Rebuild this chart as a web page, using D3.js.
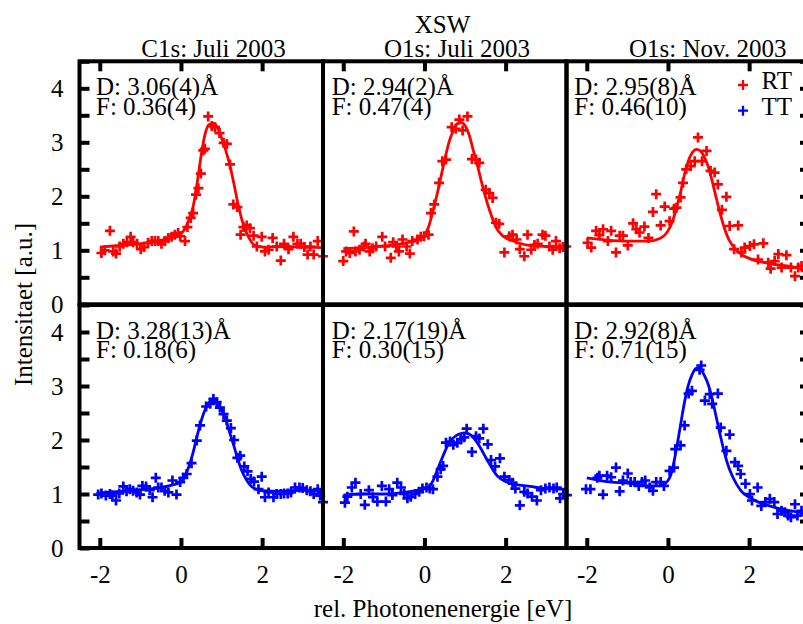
<!DOCTYPE html>
<html>
<head>
<meta charset="utf-8">
<script src="https://cdn.jsdelivr.net/npm/d3@7"></script>
<style>
  body { margin: 0; background: #fff; }
  svg text { font-family: "Liberation Serif", Tinos, "Times New Roman", Times, "DejaVu Serif", serif; font-size: 25px; fill: #000; }
</style>
</head>
<body>
<div id="chart"></div>
<script>
// Data: [rel. photon energy (eV), intensity (a.u.)]
var rtC1sJuli = [[-1.96,0.95],[-1.88,1.00],[-1.75,1.36],[-1.67,0.98],[-1.60,0.94],[-1.51,1.07],[-1.42,1.12],[-1.33,1.15],[-1.24,1.25],[-1.18,1.15],[-1.08,1.12],[-0.99,1.02],[-0.91,1.06],[-0.81,1.14],[-0.72,1.17],[-0.64,1.17],[-0.56,1.17],[-0.48,1.12],[-0.40,1.17],[-0.31,1.23],[-0.23,1.25],[-0.15,1.29],[-0.07,1.32],[-0.02,1.26],[0.10,1.17],[0.16,1.43],[0.24,1.60],[0.30,1.69],[0.37,2.03],[0.43,2.15],[0.49,2.42],[0.55,2.85],[0.59,2.88],[0.67,3.48],[0.76,3.30],[0.84,3.28],[0.95,3.17],[1.05,2.99],[1.13,2.97],[1.21,2.59],[1.29,1.85],[1.39,1.80],[1.47,1.29],[1.54,1.43],[1.62,1.46],[1.70,1.41],[1.79,1.27],[1.87,1.07],[1.99,1.25],[2.07,0.98],[2.16,1.01],[2.26,1.23],[2.36,1.07],[2.46,0.81],[2.54,1.12],[2.65,1.02],[2.77,1.25],[2.87,1.12],[2.95,1.12],[3.04,1.06],[3.12,0.92],[3.19,1.07],[3.27,0.92],[3.37,1.17],[3.50,0.89]];
var fitRtC1sJuli = [[-2.0,1.06],[-1.5,1.09],[-1.0,1.12],[-0.5,1.18],[-0.2,1.24],[0.0,1.31],[0.1,1.40],[0.2,1.57],[0.3,1.81],[0.4,2.25],[0.5,2.77],[0.6,3.17],[0.7,3.33],[0.8,3.35],[0.9,3.27],[1.0,3.08],[1.1,2.86],[1.2,2.59],[1.3,2.25],[1.4,1.88],[1.5,1.57],[1.6,1.35],[1.7,1.20],[1.8,1.10],[2.0,1.06],[2.5,1.07],[3.0,1.06],[3.5,1.05]];

var rtO1sJuli = [[-2.00,0.80],[-1.93,0.98],[-1.84,0.95],[-1.74,1.35],[-1.70,0.98],[-1.60,1.01],[-1.49,1.07],[-1.45,1.12],[-1.35,0.98],[-1.28,1.04],[-1.19,1.07],[-1.04,1.25],[-0.97,1.07],[-0.83,0.86],[-0.77,1.15],[-0.69,1.07],[-0.63,0.98],[-0.54,1.20],[-0.44,1.07],[-0.36,0.94],[-0.30,1.17],[-0.17,1.20],[-0.09,1.25],[-0.01,1.26],[0.10,1.29],[0.16,1.69],[0.24,1.85],[0.36,2.25],[0.44,2.65],[0.53,2.68],[0.67,3.28],[0.77,3.25],[0.86,3.42],[0.94,3.22],[1.06,3.48],[1.17,2.69],[1.27,2.68],[1.35,2.62],[1.51,2.12],[1.60,2.06],[1.68,1.97],[1.76,1.51],[1.84,1.49],[1.97,0.96],[2.09,1.26],[2.17,1.29],[2.27,1.20],[2.35,1.02],[2.46,0.89],[2.54,1.29],[2.63,1.01],[2.71,1.10],[2.79,1.12],[2.91,1.29],[2.98,1.27],[3.08,1.07],[3.16,1.01],[3.24,1.17],[3.33,1.04],[3.41,1.06],[3.49,1.07]];
var fitRtO1sJuli = [[-2.0,1.03],[-1.5,1.05],[-1.0,1.08],[-0.5,1.13],[-0.1,1.22],[0.0,1.28],[0.1,1.43],[0.2,1.70],[0.3,2.00],[0.4,2.34],[0.5,2.68],[0.6,2.99],[0.7,3.20],[0.8,3.34],[0.9,3.37],[1.0,3.31],[1.1,3.14],[1.2,2.86],[1.3,2.59],[1.4,2.28],[1.5,2.00],[1.6,1.75],[1.7,1.54],[1.8,1.38],[1.9,1.29],[2.0,1.23],[2.2,1.17],[2.5,1.10],[3.0,1.07],[3.5,1.06]];

var rtO1sNov = [[-1.98,1.14],[-1.89,1.05],[-1.77,1.36],[-1.69,1.28],[-1.60,1.39],[-1.48,1.17],[-1.40,1.36],[-1.28,0.96],[-1.19,1.27],[-1.11,1.27],[-0.99,1.09],[-0.86,1.50],[-0.78,1.39],[-0.70,1.33],[-0.58,1.44],[-0.48,1.23],[-0.37,1.71],[-0.29,2.04],[-0.18,1.46],[-0.08,1.81],[0.04,1.54],[0.15,1.77],[0.21,1.79],[0.31,1.98],[0.37,2.25],[0.45,2.50],[0.56,2.56],[0.66,2.65],[0.74,3.09],[0.84,2.65],[0.95,2.84],[1.05,2.47],[1.15,2.44],[1.23,2.22],[1.33,1.75],[1.44,1.99],[1.52,1.45],[1.63,1.02],[1.73,1.46],[1.81,0.96],[1.89,1.05],[2.02,1.08],[2.12,1.11],[2.22,0.83],[2.35,1.13],[2.47,0.77],[2.53,0.66],[2.63,0.80],[2.72,0.93],[2.80,0.68],[2.92,0.91],[3.03,0.68],[3.13,0.52],[3.21,0.68],[3.29,0.71],[3.40,0.62],[3.48,0.66]];
var fitRtO1sNov = [[-2.0,1.23],[-1.5,1.19],[-1.0,1.17],[-0.5,1.17],[-0.2,1.22],[0.0,1.36],[0.1,1.51],[0.2,1.76],[0.3,2.04],[0.4,2.38],[0.5,2.65],[0.6,2.81],[0.7,2.87],[0.8,2.84],[0.9,2.72],[1.0,2.53],[1.1,2.25],[1.2,1.94],[1.3,1.64],[1.4,1.39],[1.5,1.20],[1.6,1.08],[1.8,0.93],[2.0,0.85],[2.5,0.76],[3.0,0.70],[3.5,0.64]];

var ttC1sJuli = [[-2.04,0.99],[-1.96,1.01],[-1.85,0.97],[-1.75,1.00],[-1.69,0.97],[-1.60,0.88],[-1.52,1.01],[-1.42,1.14],[-1.34,1.05],[-1.26,1.09],[-1.18,1.06],[-1.09,1.03],[-1.01,0.99],[-0.95,1.15],[-0.86,1.14],[-0.77,1.07],[-0.70,0.94],[-0.62,1.30],[-0.56,1.12],[-0.48,1.12],[-0.40,1.06],[-0.31,1.03],[-0.21,1.25],[-0.11,0.99],[-0.02,1.22],[0.06,1.30],[0.14,1.37],[0.26,1.57],[0.39,1.99],[0.47,2.27],[0.62,2.62],[0.72,2.67],[0.80,2.76],[0.88,2.70],[0.96,2.60],[1.05,2.48],[1.13,2.36],[1.23,2.22],[1.31,2.00],[1.39,1.67],[1.46,1.71],[1.56,1.51],[1.64,1.42],[1.72,1.28],[1.80,1.23],[1.91,1.09],[1.99,1.32],[2.07,0.94],[2.16,1.03],[2.28,0.94],[2.36,1.00],[2.46,1.00],[2.54,1.01],[2.63,1.01],[2.71,1.03],[2.81,1.12],[2.92,1.12],[3.00,1.11],[3.10,1.07],[3.19,1.05],[3.27,1.00],[3.37,1.09],[3.43,0.97],[3.50,0.85]];
var fitTtC1sJuli = [[-2.0,1.02],[-1.5,1.05],[-1.0,1.08],[-0.5,1.12],[-0.2,1.17],[0.0,1.22],[0.1,1.34],[0.2,1.52],[0.3,1.77],[0.4,2.08],[0.5,2.36],[0.6,2.57],[0.7,2.70],[0.8,2.73],[0.9,2.68],[1.0,2.56],[1.1,2.39],[1.2,2.14],[1.3,1.90],[1.4,1.65],[1.5,1.43],[1.6,1.28],[1.7,1.17],[1.8,1.11],[2.0,1.06],[2.5,1.05],[3.0,1.07],[3.5,1.06]];

var ttO1sJuli = [[-1.96,0.84],[-1.90,0.95],[-1.79,1.12],[-1.70,1.21],[-1.57,1.00],[-1.47,0.80],[-1.37,1.07],[-1.27,0.94],[-1.16,0.86],[-1.05,1.15],[-0.95,0.86],[-0.87,1.09],[-0.79,0.98],[-0.67,1.21],[-0.58,1.12],[-0.50,1.00],[-0.42,0.92],[-0.34,0.95],[-0.23,1.00],[-0.13,1.04],[-0.05,1.10],[0.05,1.12],[0.13,1.10],[0.21,1.09],[0.32,1.32],[0.40,1.46],[0.46,1.52],[0.53,1.95],[0.63,1.97],[0.71,1.91],[0.81,1.95],[0.90,2.01],[0.98,2.05],[1.04,2.21],[1.17,1.78],[1.27,2.07],[1.35,2.03],[1.45,2.21],[1.56,1.92],[1.64,1.63],[1.74,1.51],[1.86,1.66],[1.97,1.32],[2.09,1.26],[2.17,1.21],[2.24,1.10],[2.35,0.79],[2.46,1.04],[2.54,1.01],[2.65,0.95],[2.77,0.88],[2.87,1.07],[2.98,1.10],[3.08,1.12],[3.18,1.10],[3.26,1.12],[3.34,0.92],[3.42,1.00],[3.51,0.98]];
var fitTtO1sJuli = [[-2.0,0.98],[-1.5,1.00],[-1.0,1.00],[-0.5,1.03],[0.0,1.10],[0.1,1.13],[0.2,1.23],[0.3,1.41],[0.4,1.60],[0.5,1.78],[0.6,1.94],[0.7,2.03],[0.8,2.09],[0.9,2.12],[1.0,2.13],[1.1,2.11],[1.2,2.05],[1.3,1.95],[1.4,1.83],[1.5,1.69],[1.6,1.56],[1.7,1.43],[1.8,1.33],[2.0,1.23],[2.3,1.17],[2.6,1.14],[3.0,1.10],[3.5,1.09]];

var ttO1sNov = [[-2.02,1.09],[-1.91,1.09],[-1.74,1.30],[-1.69,1.34],[-1.60,0.99],[-1.50,1.34],[-1.40,1.31],[-1.28,1.49],[-1.19,1.05],[-1.11,1.25],[-0.99,1.38],[-0.92,1.22],[-0.82,1.22],[-0.72,1.15],[-0.64,1.22],[-0.56,1.25],[-0.45,1.12],[-0.37,1.06],[-0.29,1.22],[-0.18,1.22],[-0.10,1.15],[0.04,1.43],[0.15,1.49],[0.18,1.83],[0.31,1.90],[0.41,2.27],[0.51,2.86],[0.59,2.91],[0.78,3.30],[0.82,3.38],[0.91,2.73],[1.03,2.85],[1.09,2.67],[1.23,2.86],[1.30,2.23],[1.44,1.80],[1.52,2.10],[1.65,1.59],[1.73,1.52],[1.79,1.37],[1.91,1.19],[2.02,1.00],[2.07,0.88],[2.21,1.12],[2.30,0.78],[2.40,0.85],[2.51,0.91],[2.62,0.85],[2.70,0.63],[2.80,0.69],[2.88,0.66],[2.96,0.60],[3.03,0.57],[3.13,0.81],[3.19,0.60],[3.29,0.69],[3.40,0.62]];
var fitTtO1sNov = [[-2.0,1.30],[-1.5,1.23],[-1.0,1.20],[-0.5,1.15],[-0.2,1.15],[0.0,1.25],[0.1,1.43],[0.2,1.80],[0.3,2.23],[0.4,2.67],[0.5,3.01],[0.6,3.22],[0.7,3.33],[0.8,3.31],[0.9,3.19],[1.0,3.01],[1.1,2.73],[1.2,2.39],[1.3,2.05],[1.4,1.74],[1.5,1.49],[1.6,1.31],[1.8,1.06],[2.0,0.94],[2.5,0.78],[3.0,0.69],[3.5,0.63]];

var columnTitles = ["C1s: Juli 2003", "O1s: Juli 2003", "O1s: Nov. 2003"];
var dLabels = ["D: 3.06(4)Å", "D: 2.94(2)Å", "D: 2.95(8)Å", "D: 3.28(13)Å", "D: 2.17(19)Å", "D: 2.92(8)Å"];
var fLabels = ["F: 0.36(4)", "F: 0.47(4)", "F: 0.46(10)", "F: 0.18(6)", "F: 0.30(15)", "F: 0.71(15)"];
var seriesNames = ["RT", "TT"];
var xTicks = [-2, 0, 2];
var yTicks = [0, 0.5, 1, 1.5, 2, 2.5, 3, 3.5, 4, 4.5];

// layout
var svgWidth = 803;
var svgHeight = 624;
var panelLeft = 79.5;
var panelW = 243.5;
var rowTop = [61.3, 305];
var panelH = 243;
var colors = { RT: "#ff0000", TT: "#0000ff" };
var titleX = [213.5, 457, 707.7];
var labelX = [96, 331.7, 574.3];
var fontStack = "'Liberation Serif', Tinos, 'Times New Roman', Times, 'DejaVu Serif', serif";

var panels = [
  { row: 0, col: 0, series: "RT", points: rtC1sJuli, fit: fitRtC1sJuli },
  { row: 0, col: 1, series: "RT", points: rtO1sJuli, fit: fitRtO1sJuli },
  { row: 0, col: 2, series: "RT", points: rtO1sNov, fit: fitRtO1sNov },
  { row: 1, col: 0, series: "TT", points: ttC1sJuli, fit: fitTtC1sJuli },
  { row: 1, col: 1, series: "TT", points: ttO1sJuli, fit: fitTtO1sJuli },
  { row: 1, col: 2, series: "TT", points: ttO1sNov, fit: fitTtO1sNov }
];

var svg = d3.select("#chart")
  .append("svg")
  .attr("width", svgWidth)
  .attr("height", svgHeight)
  .attr("font-family", fontStack)
  .attr("font-size", 25);

var plusPath = "M-5,0H5M0,-5V5";

panels.forEach(function(p, i) {
  var x0 = panelLeft + p.col * panelW;
  var y0 = rowTop[p.row];
  var xScale = d3.scaleLinear().domain([-2.5, 3.5]).range([x0, x0 + panelW]);
  var yScale = d3.scaleLinear().domain([0, 4.5]).range([y0 + panelH, y0]);
  var color = colors[p.series];
  var g = svg.append("g");

  // fitted curve
  var line = d3.line()
    .x(d => xScale(d[0]))
    .y(d => yScale(d[1]))
    .curve(d3.curveMonotoneX);
  g.append("path")
    .datum(p.fit)
    .attr("d", line)
    .attr("fill", "none")
    .attr("stroke", color)
    .attr("stroke-width", 2.8);

  // measured points as +
  g.selectAll(".pt")
    .data(p.points)
    .enter()
    .append("path")
    .attr("class", "pt")
    .attr("transform", d => `translate(${xScale(d[0])},${yScale(d[1])})`)
    .attr("d", plusPath)
    .attr("stroke", color)
    .attr("stroke-width", 2.7)
    .attr("fill", "none");

  // frame
  g.append("rect")
    .attr("x", x0)
    .attr("y", y0)
    .attr("width", panelW)
    .attr("height", panelH)
    .attr("fill", "none")
    .attr("stroke", "#000")
    .attr("stroke-width", 4);

  // axes: y on the outer sides, x on the outer top/bottom
  if (p.col === 0) {
    var leftAxis = d3.axisLeft(yScale)
      .tickValues(yTicks)
      .tickSize(-10)
      .tickPadding(16)
      .tickFormat(d => Number.isInteger(d) && d < 4.5 ? String(d) : "");
    g.append("g").attr("class", "axis").attr("transform", `translate(${x0},0)`).call(leftAxis);
  }
  if (p.col === 2) {
    var rightAxis = d3.axisRight(yScale).tickValues(yTicks).tickSize(-10).tickFormat("");
    g.append("g").attr("class", "axis").attr("transform", `translate(${x0 + panelW},0)`).call(rightAxis);
  }
  if (p.row === 0) {
    var topAxis = d3.axisTop(xScale).tickValues(xTicks).tickSize(-10).tickFormat("");
    g.append("g").attr("class", "axis").attr("transform", `translate(0,${y0})`).call(topAxis);
  }
  if (p.row === 1) {
    var bottomAxis = d3.axisBottom(xScale)
      .tickValues(xTicks)
      .tickSize(-10)
      .tickPadding(17)
      .tickFormat(d => String(d));
    g.append("g").attr("class", "axis").attr("transform", `translate(0,${y0 + panelH})`).call(bottomAxis);
  }

  // D / F annotations
  g.append("text").attr("x", labelX[p.col]).attr("y", y0 + 33.5).text(dLabels[i]);
  g.append("text").attr("x", labelX[p.col]).attr("y", y0 + 53.3).text(fLabels[i]);
});

svg.selectAll(".axis .domain").remove();
svg.selectAll(".axis line").attr("stroke", "#000").attr("stroke-width", 4);
svg.selectAll(".axis")
  .attr("font-family", fontStack)
  .attr("font-size", 25);
svg.selectAll(".axis text").attr("fill", "#000");

// titles
svg.append("text")
  .attr("x", 442.5)
  .attr("y", 33)
  .attr("text-anchor", "middle")
  .text("XSW");

columnTitles.forEach(function(t, i) {
  svg.append("text")
    .attr("x", titleX[i])
    .attr("y", 57)
    .attr("text-anchor", "middle")
    .text(t);
});

// legend
seriesNames.forEach(function(s, i) {
  svg.append("path")
    .attr("transform", `translate(743,${85 + i * 25.7})`)
    .attr("d", plusPath)
    .attr("stroke", colors[s])
    .attr("stroke-width", 2.3)
    .attr("fill", "none");
  svg.append("text")
    .attr("x", 792)
    .attr("y", 89.3 + i * 25.7)
    .attr("text-anchor", "end")
    .text(s);
});

// axis labels
svg.append("text")
  .attr("transform", "translate(32,304.5) rotate(-90)")
  .attr("text-anchor", "middle")
  .text("Intensitaet [a.u.]");

svg.append("text")
  .attr("x", 443)
  .attr("y", 617)
  .attr("text-anchor", "middle")
  .text("rel. Photonenenergie [eV]");
</script>
</body>
</html>
